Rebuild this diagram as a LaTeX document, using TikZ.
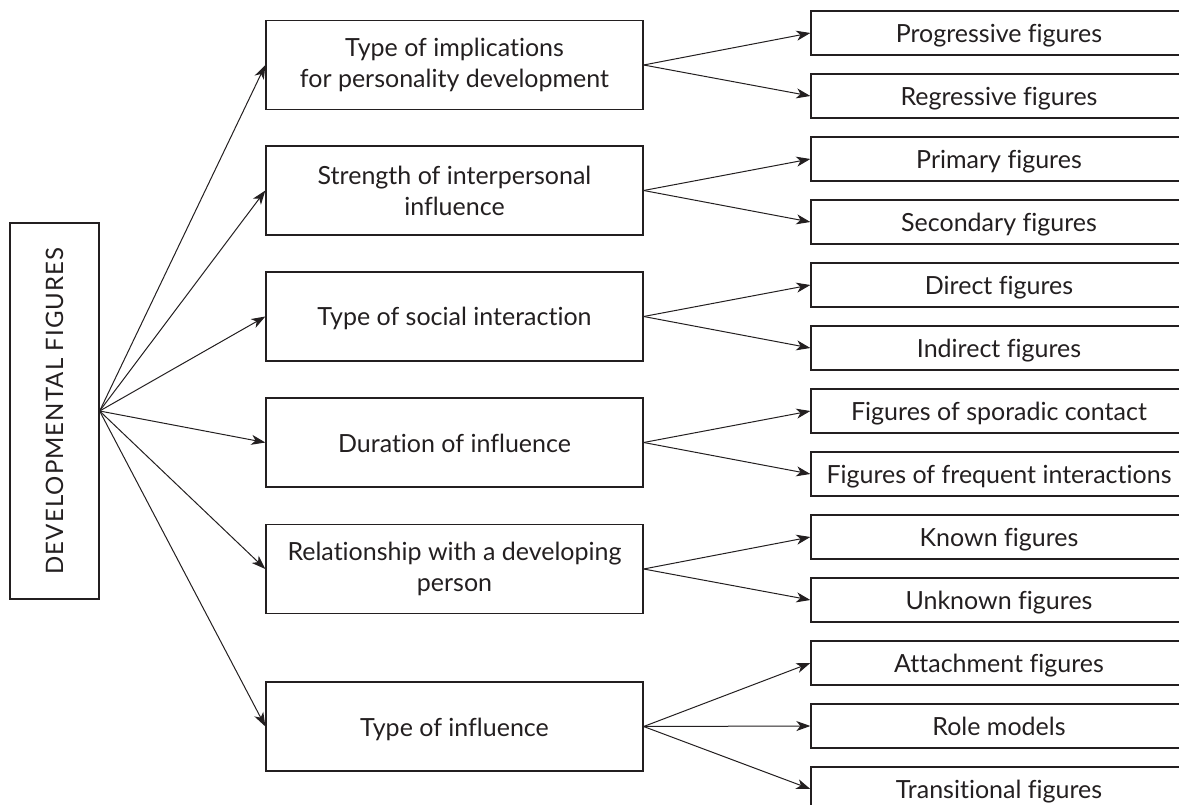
\documentclass[tikz,border=0pt]{standalone}
\usepackage{fontspec}
\setmainfont{Lato}[Ligatures={NoCommon}]
\newfontfamily\spacedfont[LetterSpace=4.5]{Lato}
\usetikzlibrary{arrows.meta}
\definecolor{ink}{RGB}{35,31,32}
\begin{document}
\begin{tikzpicture}[x=1pt,y=-1pt,
  box/.style={draw=ink, line width=1.3pt, inner sep=0pt, align=center, text=ink, font=\fontsize{25}{31}\selectfont},
  oneline/.style={text height=19pt, text depth=-1pt},
  midbox/.style={box, minimum width=377pt, minimum height=89pt},
  leafbox/.style={box, oneline, minimum width=376pt, minimum height=44pt},
  conn/.style={draw=ink, line width=1pt, -{Stealth[length=14pt,width=10pt,inset=4pt]}}]
\path[use as bounding box, clip] (0,0) rectangle (1179,805);

\node[box, minimum width=89pt, minimum height=376pt] (L) at (54.5,411)
  {\rotatebox{90}{\fontsize{24}{28}\spacedfont DEVELOPMENTAL FIGURES}};

\node[midbox] (m1) at (454.5,65) {Type of implications\\for personality development};
\node[midbox] (m2) at (454.5,190.5) {Strength of interpersonal\\influence};
\node[midbox, oneline] (m3) at (454.5,316.5) {Type of social interaction};
\node[midbox, oneline] (m4) at (454.5,442.5) {Duration of influence};
\node[midbox] (m5) at (454.5,569) {Relationship with a developing\\person};
\node[midbox, oneline] (m6) at (454.5,726.5) {Type of influence};

\node[leafbox] (r1) at (999,33) {Progressive figures};
\node[leafbox] (r2) at (999,96) {Regressive figures};
\node[leafbox] (r3) at (999,159) {Primary figures};
\node[leafbox] (r4) at (999,222) {Secondary figures};
\node[leafbox] (r5) at (999,285) {Direct figures};
\node[leafbox] (r6) at (999,348) {Indirect figures};
\node[leafbox] (r7) at (999,411) {Figures of sporadic contact};
\node[leafbox] (r8) at (999,474) {Figures of frequent interactions};
\node[leafbox] (r9) at (999,537) {Known figures};
\node[leafbox] (r10) at (999,600) {Unknown figures};
\node[leafbox] (r11) at (999,663) {Attachment figures};
\node[leafbox] (r12) at (999,726) {Role models};
\node[leafbox] (r13) at (999,789) {Transitional figures};

\foreach \m in {1,...,6} \draw[conn] (L.east) -- (m\m.west);

\draw[conn] (m1.east) -- (r1.west);
\draw[conn] (m1.east) -- (r2.west);
\draw[conn] (m2.east) -- (r3.west);
\draw[conn] (m2.east) -- (r4.west);
\draw[conn] (m3.east) -- (r5.west);
\draw[conn] (m3.east) -- (r6.west);
\draw[conn] (m4.east) -- (r7.west);
\draw[conn] (m4.east) -- (r8.west);
\draw[conn] (m5.east) -- (r9.west);
\draw[conn] (m5.east) -- (r10.west);
\draw[conn] (m6.east) -- (r11.west);
\draw[conn] (m6.east) -- (r12.west);
\draw[conn] (m6.east) -- (r13.west);
\end{tikzpicture}
\end{document}
